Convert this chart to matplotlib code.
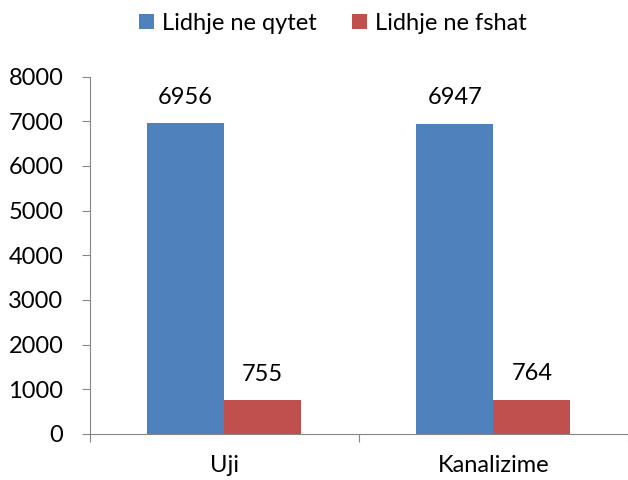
import matplotlib
matplotlib.use("Agg")
import matplotlib.pyplot as plt
import numpy as np

categories = ["Uji", "Kanalizime"]
series_names = ["Lidhje ne qytet", "Lidhje ne fshat"]
qytet = [6956, 6947]
fshat = [755, 764]

plt.rcParams["font.family"] = ["Lato", "DejaVu Sans"]
FS = 17
GRAY = "#868686"

fig = plt.figure(figsize=(6.28, 4.8), dpi=100)
ax = fig.add_axes([89.5 / 628, 1 - 434 / 480, 1 - 89.5 / 628, (434 - 76.5) / 480])

x = np.arange(len(categories))
w = 0.286
b1 = ax.bar(x - w / 2, qytet, w, color="#4F81BD", label=series_names[0])
b2 = ax.bar(x + w / 2, fshat, w, color="#C0504D", label=series_names[1])

for bars in (b1, b2):
    for r in bars:
        ax.annotate(f"{int(r.get_height())}", (r.get_x() + r.get_width() / 2, r.get_height()),
                    xytext=(0, 14), textcoords="offset points", ha="center", va="baseline",
                    fontsize=FS)

ax.set_ylim(0, 8000)
ax.set_yticks(range(0, 8001, 1000))
ax.set_xlim(-0.5, 1.476)
ax.set_xticks([-0.5, 0.5, 1.5])
ax.set_xticklabels([])
ax.set_xticks(x, minor=True)
ax.set_xticklabels(categories, minor=True)
ax.tick_params(axis="x", which="minor", length=0, labelsize=FS, pad=15)
ax.tick_params(axis="x", which="major", length=5.8, color=GRAY)
ax.tick_params(axis="y", length=5.8, color=GRAY, labelsize=FS, pad=13)

for s in ("top", "right"):
    ax.spines[s].set_visible(False)
for s in ("left", "bottom"):
    ax.spines[s].set_color(GRAY)

fig.legend(loc="center", bbox_to_anchor=(333 / 628, 1 - 23.5 / 480), ncol=2, frameon=False,
           fontsize=FS, handlelength=0.62, handleheight=0.62, handletextpad=0.35,
           columnspacing=1.5, borderpad=0)

fig.savefig("out.png", dpi=100)
